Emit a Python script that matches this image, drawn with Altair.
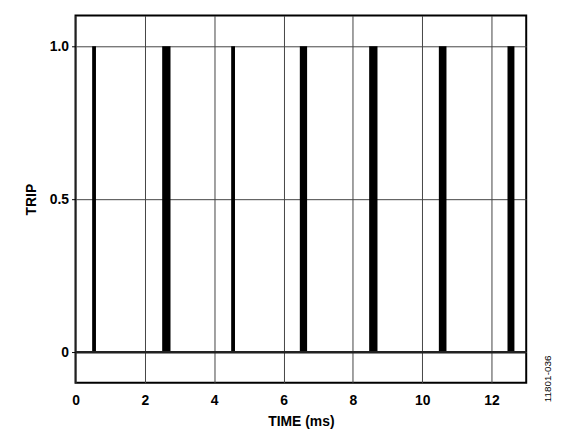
import altair as alt
import pandas as pd

# Pulse start / end times (ms)
pulse_start = [0.48, 2.50, 4.49, 6.47, 8.47, 10.48, 12.46]
pulse_end = [0.59, 2.74, 4.60, 6.68, 8.71, 10.70, 12.66]
pulse_level = [1.0] * 7

baseline_x = [0.0]
baseline_x2 = [13.0]
baseline_y = [0.0]

x_ticks = [0, 2, 4, 6, 8, 10, 12]
y_ticks = [0, 0.5, 1.0]

pulses = pd.DataFrame({"t0": pulse_start, "t1": pulse_end, "lvl": pulse_level,
                       "base": [0.0] * len(pulse_start)})
base = pd.DataFrame({"x": baseline_x, "x2": baseline_x2, "y": baseline_y})

W, H = 454, 370
FONT = "Liberation Sans"

xs = alt.Scale(domain=[0, 13], nice=False, zero=False)
ys = alt.Scale(domain=[-0.1, 1.1], nice=False, zero=False)

xaxis = alt.Axis(values=x_ticks, title="TIME (ms)", grid=True, ticks=False,
                 domain=False, labelFontWeight="bold", labelFontSize=14,
                 labelFont=FONT, titleFont=FONT, titleFontSize=14,
                 titleFontWeight="bold", labelPadding=11, titlePadding=7,
                 labelColor="black", titleColor="black",
                 gridColor="#444444", gridWidth=1, gridOpacity=1,
                 labelFlush=False)
yaxis = alt.Axis(values=y_ticks, title="TRIP", grid=True, ticks=True,
                 tickSize=4, tickColor="black", tickWidth=1,
                 domain=False, labelFontWeight="bold", labelFontSize=14,
                 labelFont=FONT, titleFont=FONT, titleFontSize=14,
                 titleFontWeight="bold", labelPadding=3, titlePadding=11,
                 labelColor="black", titleColor="black",
                 gridColor="#444444", gridWidth=1, gridOpacity=1,
                 labelExpr="datum.value == 0 ? '0' : format(datum.value, '.1f')")

rects = alt.Chart(pulses).mark_rect(color="black").encode(
    x=alt.X("t0:Q", scale=xs, axis=xaxis),
    x2="t1:Q",
    y=alt.Y("base:Q", scale=ys, axis=yaxis),
    y2="lvl:Q",
)

baseline = alt.Chart(base).mark_rule(color="#222222", strokeWidth=2.5).encode(
    x=alt.X("x:Q", scale=xs),
    x2="x2:Q",
    y=alt.Y("y:Q", scale=ys),
)

side = alt.Chart(pd.DataFrame({"t": ["11801-036"]})).mark_text(
    angle=270, font=FONT, fontSize=10, color="black", align="center",
    baseline="middle", clip=False
).encode(text="t:N", x=alt.value(W + 22), y=alt.value(H - 4))

chart = alt.layer(rects, baseline, side).properties(
    width=W, height=H,
    autosize=alt.AutoSizeParams(type="none"),
    padding={"left": 68, "top": 6, "right": 30, "bottom": 55},
).configure_view(stroke="black", strokeWidth=2)

chart.save("out.html", embed_options={"renderer": "svg", "actions": False})
